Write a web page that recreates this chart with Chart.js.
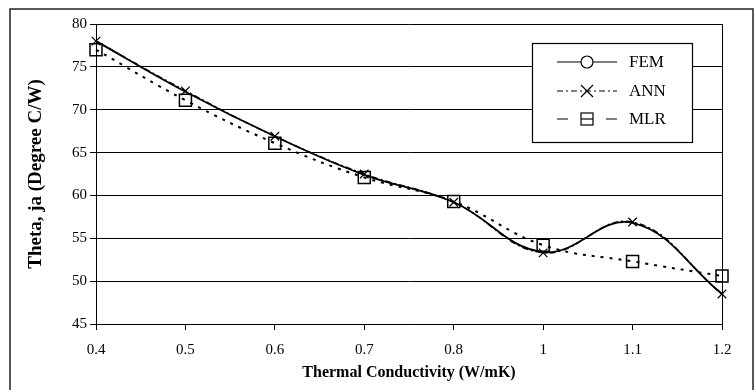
<!DOCTYPE html>
<html>
<head>
<meta charset="utf-8">
<script src="https://cdn.jsdelivr.net/npm/chart.js@4.4.1/dist/chart.umd.min.js"></script>
<style>
  html, body { margin: 0; padding: 0; background: #fff; }
  #wrap { width: 756px; height: 390px; position: relative; }
</style>
</head>
<body>
<div id="wrap"><canvas id="c" width="756" height="390"></canvas></div>
<script>
// categories and series
const conductivity = ["0.4", "0.5", "0.6", "0.7", "0.8", "1", "1.1", "1.2"];
const femValues = [78.0, 72.1, 66.9, 62.4, 59.2, 53.4, 56.8, 48.5];
const annValues = [78.0, 72.2, 66.9, 62.5, 59.2, 53.3, 56.9, 48.5];
const mlrValues = [77.0, 71.1, 66.1, 62.1, 59.3, 54.2, 52.3, 50.6];
const yTicks = [45, 50, 55, 60, 65, 70, 75, 80];

const serif = "'Liberation Serif', 'DejaVu Serif', serif";

// frame, plot edge and legend box
const framePlugin = {
    id: "frame",
    afterDraw(chart) {
        const ctx = chart.ctx;
        const area = chart.chartArea;
        ctx.save();
        // outer frame
        ctx.strokeStyle = "#222";
        ctx.lineWidth = 1.5;
        ctx.strokeRect(10, 9, 743, 390);
        // right edge of plot
        ctx.lineWidth = 1;
        ctx.strokeStyle = "#000";
        ctx.beginPath();
        ctx.moveTo(area.right + 0.5, area.top);
        ctx.lineTo(area.right + 0.5, area.bottom);
        ctx.stroke();

        // legend
        const bx = 532, by = 43, bw = 160, bh = 99;
        ctx.fillStyle = "#fff";
        ctx.fillRect(bx, by, bw, bh);
        ctx.strokeStyle = "#000";
        ctx.lineWidth = 1.2;
        ctx.strokeRect(bx + 0.5, by + 0.5, bw, bh);

        const rows = [
            { label: "FEM", y: 62, dash: [], marker: "circle" },
            { label: "ANN", y: 91, dash: [6, 3, 2, 3], marker: "cross" },
            { label: "MLR", y: 119, dash: [11, 14], marker: "rect" }
        ];
        const x0 = 557, x1 = 617, mx = 587;
        rows.forEach(r => {
            ctx.strokeStyle = "#000";
            ctx.lineWidth = 1.2;
            ctx.setLineDash(r.dash);
            ctx.beginPath();
            if (r.marker === "rect") {
                ctx.moveTo(x0, r.y); ctx.lineTo(x0 + 11, r.y);
                ctx.moveTo(x1 - 11, r.y); ctx.lineTo(x1, r.y);
            } else {
                ctx.moveTo(x0, r.y); ctx.lineTo(x1, r.y);
            }
            ctx.stroke();
            ctx.setLineDash([]);
            ctx.beginPath();
            if (r.marker === "circle") {
                ctx.fillStyle = "#fff";
                ctx.arc(mx, r.y, 6, 0, Math.PI * 2);
                ctx.fill();
                ctx.stroke();
            } else if (r.marker === "cross") {
                ctx.moveTo(mx - 6, r.y - 6); ctx.lineTo(mx + 6, r.y + 6);
                ctx.moveTo(mx + 6, r.y - 6); ctx.lineTo(mx - 6, r.y + 6);
                ctx.stroke();
            } else {
                ctx.fillStyle = "#fff";
                ctx.fillRect(mx - 6, r.y - 6, 12, 12);
                ctx.strokeRect(mx - 6, r.y - 6, 12, 12);
                ctx.beginPath();
                ctx.moveTo(mx - 6, r.y); ctx.lineTo(mx + 6, r.y);
                ctx.stroke();
            }
            ctx.fillStyle = "#000";
            ctx.font = "17px " + serif;
            ctx.textBaseline = "middle";
            ctx.textAlign = "left";
            ctx.fillText(r.label, 629, r.y + 1);
        });
        ctx.restore();
    }
};

const ctx = document.getElementById("c").getContext("2d");
new Chart(ctx, {
    type: "line",
    data: {
        labels: conductivity,
        datasets: [
            {
                label: "FEM",
                data: femValues,
                borderColor: "#000",
                borderWidth: 1.8,
                tension: 0.4,
                pointRadius: 0
            },
            {
                label: "ANN",
                data: annValues,
                borderColor: "#000",
                borderWidth: 1.5,
                borderDash: [6, 3, 2, 3],
                tension: 0.4,
                pointStyle: "crossRot",
                pointRadius: 6,
                pointBorderWidth: 1.2,
                pointBorderColor: "#000"
            },
            {
                label: "MLR",
                data: mlrValues,
                borderColor: "#000",
                borderWidth: 2,
                borderDash: [3, 6],
                tension: 0.4,
                pointStyle: "rect",
                pointRadius: 8.5,
                pointBorderWidth: 1.5,
                pointBorderColor: "#000",
                pointBackgroundColor: "rgba(0,0,0,0)"
            }
        ]
    },
    options: {
        responsive: false,
        animation: false,
        layout: { padding: { left: 25, top: 24, right: 34, bottom: 8 } },
        plugins: {
            legend: { display: false },
            tooltip: { enabled: false }
        },
        scales: {
            x: {
                offset: false,
                afterFit(s) { s.height = 58; },
                grid: {
                    drawOnChartArea: false,
                    drawTicks: true,
                    tickLength: 6,
                    color: "#000"
                },
                border: { color: "#000", width: 1 },
                ticks: {
                    color: "#000",
                    padding: 11,
                    maxRotation: 0,
                    autoSkip: false,
                    font: { family: serif, size: 15 }
                },
                title: {
                    display: true,
                    text: "Thermal Conductivity (W/mK)",
                    color: "#000",
                    padding: { top: 0, bottom: 0 },
                    font: { family: serif, size: 16, weight: "bold" }
                }
            },
            y: {
                min: 45,
                max: 80,
                afterFit(s) { s.width = 71; },
                afterBuildTicks(s) { s.ticks = yTicks.map(v => ({ value: v })); },
                grid: {
                    color: "#000",
                    lineWidth: 1,
                    drawTicks: true,
                    tickLength: 6
                },
                border: { color: "#000", width: 1 },
                ticks: {
                    color: "#000",
                    padding: 3,
                    font: { family: serif, size: 15 }
                },
                title: {
                    display: true,
                    text: "Theta, ja (Degree C/W)",
                    color: "#000",
                    padding: { top: 0, bottom: 8 },
                    font: { family: serif, size: 19, weight: "bold" }
                }
            }
        }
    },
    plugins: [framePlugin]
});
</script>
</body>
</html>
